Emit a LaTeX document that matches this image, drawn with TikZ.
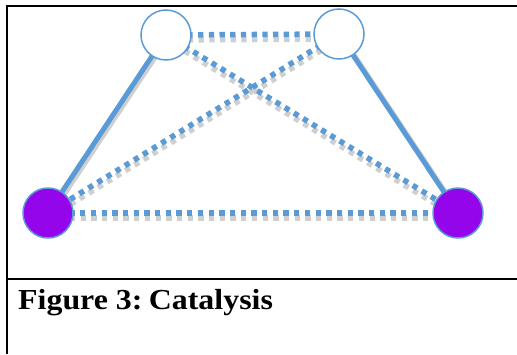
\documentclass[tikz,border=0pt]{standalone}
\usepackage{fontspec}
\setmainfont{Liberation Serif}
\usetikzlibrary{backgrounds}
\definecolor{linkblue}{HTML}{5B9BD5}
\definecolor{shade}{HTML}{CFCFCF}
\definecolor{catalyst}{HTML}{9405EC}
\begin{document}
\begin{tikzpicture}[x=1pt,y=-1pt,
  atom/.style={circle,draw=linkblue,line width=1.5pt,minimum size=50pt,inner sep=0pt,fill=white},
  catatom/.style={atom,fill=catalyst},
  bond/.style={draw=linkblue,line width=5pt},
  bondshade/.style={draw=shade,line width=5pt},
  weak/.style={draw=linkblue,line width=5.5pt,dash pattern=on 5.3pt off 5.4pt},
  weakshade/.style={draw=shade,line width=5.5pt,dash pattern=on 5.3pt off 5.4pt},
  frame/.style={draw=black,line width=2.4pt}]
\useasboundingbox (0,0) rectangle (517,354);
% frame of the figure cell
\draw[frame] (7,6) -- (517,6);
\draw[frame] (7,5) -- (7,354);
\draw[frame] (7,279) -- (517,279);
% atoms
\node[atom] (tl) at (166,35) {};
\node[atom] (tr) at (339,34) {};
\node[catatom] (bl) at (48,213) {};
\node[catatom] (br) at (458,213) {};
% bonds behind the atoms, each with a soft grey drop shadow
\tikzset{sb/.style={shift={(2.5pt,-2pt)}}, sw/.style={shift={(0.5pt,-5pt)}}}
\begin{pgfonlayer}{background}
  \path[bondshade] ([sb]tl.center) -- ([sb]bl.center);
  \path[bondshade] ([sb]tr.center) -- ([sb]br.center);
  \path[weakshade] ([sw]tl.center) -- ([sw]tr.center);
  \path[weakshade] ([sw]bl.center) -- ([sw]br.center);
  \path[weakshade] ([sw]tl.center) -- ([sw]br.center);
  \path[weakshade] ([sw]tr.center) -- ([sw]bl.center);
  \path[bond] (tl.center) -- (bl.center);
  \path[bond] (tr.center) -- (br.center);
  \path[weak] (tl.center) -- (tr.center);
  \path[weak] (bl.center) -- (br.center);
  \path[weak] (tl.center) -- (br.center);
  \path[weak] (tr.center) -- (bl.center);
\end{pgfonlayer}
% caption
\node[anchor=base west,inner sep=0pt,font=\fontsize{29}{32}\selectfont\bfseries] (cap) at (18,309) {\scalebox{1.1}[1]{Figure 3:\hspace{0.2em}Catalysis}};
\end{tikzpicture}
\end{document}
